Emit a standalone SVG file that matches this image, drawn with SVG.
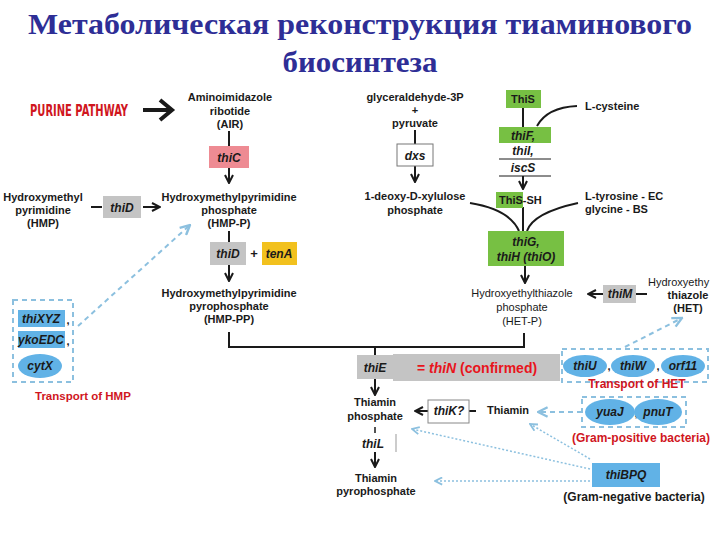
<svg xmlns="http://www.w3.org/2000/svg" width="720" height="540" viewBox="0 0 720 540">
<defs>
<style>
text{font-family:"Liberation Sans",Arial,sans-serif;fill:#1a1a1a}
.t{font-family:"Liberation Serif","Times New Roman",serif;font-weight:bold;font-size:29px;fill:#2e2e96;text-anchor:middle}
.l{font-size:11px;font-weight:bold;text-anchor:middle}
.r{font-size:11px;text-anchor:middle}
.e{font-size:12px;font-weight:bold;font-style:italic;text-anchor:middle}
.red{fill:#d0161e;font-weight:bold}
.ln{stroke:#1a1a1a;stroke-width:2;fill:none}
.ar{stroke:#1a1a1a;stroke-width:2;fill:none;marker-end:url(#ah)}
.bd{stroke:#8cc0df;stroke-width:2;fill:none;stroke-dasharray:5 4}
.bt{stroke:#8cc0df;stroke-width:1.5;fill:none;stroke-dasharray:2 2}
.grey{fill:#c4c4c4}
.green{fill:#77c043}
.blue{fill:#61b2e6}
</style>
<marker id="ah" viewBox="0 0 10 10" refX="9" refY="5" markerWidth="5" markerHeight="5" orient="auto"><path d="M1 1 L9 5 L1 9" fill="none" stroke="#1a1a1a" stroke-width="2"/></marker>
<marker id="ab" viewBox="0 0 10 10" refX="9" refY="5" markerWidth="6" markerHeight="6" orient="auto"><path d="M1 1 L9 5 L1 9" fill="none" stroke="#8cc0df" stroke-width="2"/></marker>
</defs>
<rect width="720" height="540" fill="#ffffff"/>
<g id="title">
<text class="t" x="360" y="34" textLength="664" lengthAdjust="spacingAndGlyphs">Метаболическая реконструкция тиаминового</text>
<text class="t" x="360" y="72" textLength="155" lengthAdjust="spacingAndGlyphs">биосинтеза</text>
</g>
<g id="connectors">
<path d="M143 110 H170" stroke="#1a1a1a" stroke-width="4" fill="none"/>
<path d="M160 100 L172 110 L160 120" stroke="#1a1a1a" stroke-width="4" fill="none"/>
<path class="ln" d="M229 131 V146"/>
<path class="ar" d="M229 168 V183"/>
<path class="ln" d="M91 207 H102"/>
<path class="ar" d="M143 207 H160"/>
<path class="ln" d="M229 231 V242"/>
<path class="ar" d="M229 265 V281"/>
<path class="ln" d="M229 332 V347 H524 V333"/>
<path class="ln" d="M375 347 V356"/>
<path class="ar" d="M375 379 V395"/>
<path d="M375 427 V433" stroke="#1a1a1a" stroke-width="1.5"/>
<path d="M396 434 V452" stroke="#999" stroke-width="1"/>
<path class="ar" d="M375 452 V467"/>
<path class="ar" d="M428 411 H415"/>
<path class="ln" d="M469 411 H476"/>
<path class="ln" d="M415 130 V144"/>
<path class="ar" d="M415 166 V182"/>
<path class="ln" d="M523 108 V127"/>
<path class="ar" d="M523 176 V189"/>
<path class="ln" d="M523 207 V231"/>
<path class="ln" d="M577 106 C556 107 543 115 537 126"/>
<path class="ln" d="M470 203 C495 207 512 215 519 231"/>
<path class="ln" d="M578 203 C555 208 532 216 527 231"/>
<path class="ar" d="M525 266 V283"/>
<path class="ar" d="M603 294 H588"/>
<path class="ln" d="M636 294 H647"/>
<path class="bd" d="M78 326 L190 225" marker-end="url(#ab)"/>
<path class="bd" d="M625 347 L682 318" marker-end="url(#ab)"/>
<path class="bd" d="M582 412 L538 412" marker-end="url(#ab)"/>
<path class="bt" d="M590 459 L530 424" marker-end="url(#ab)"/>
<path class="bt" d="M590 469 L412 429" marker-end="url(#ab)"/>
<path class="bt" d="M590 481 L435 481" marker-end="url(#ab)"/>
</g>
<g id="purine"><text x="30" y="116" style="font-family:'DejaVu Sans Condensed','DejaVu Sans',sans-serif;font-size:15px;font-weight:bold;fill:#d0161e" textLength="98" lengthAdjust="spacingAndGlyphs">PURINE PATHWAY</text></g>
<g id="air"><text class="l" x="230" y="101">Aminoimidazole</text><text class="l" x="230" y="115">ribotide</text><text class="l" x="230" y="128">(AIR)</text></g>
<g id="thiC"><rect x="209" y="146" width="40" height="22" fill="#ee8b93"/><text class="e" x="229" y="162">thiC</text></g>
<g id="hmp"><text class="l" x="43" y="201">Hydroxymethyl</text><text class="l" x="43" y="214">pyrimidine</text><text class="l" x="43" y="227">(HMP)</text></g>
<g id="thiD1"><rect class="grey" x="103" y="196" width="38" height="22"/><text class="e" x="122" y="212">thiD</text></g>
<g id="hmpp"><text class="l" x="229" y="201">Hydroxymethylpyrimidine</text><text class="l" x="229" y="214">phosphate</text><text class="l" x="229" y="227">(HMP-P)</text></g>
<g id="thiD2"><rect class="grey" x="210" y="242" width="36" height="23"/><text class="e" x="228" y="258">thiD</text><text class="l" x="254" y="258" style="font-size:13px">+</text></g>
<g id="tenA"><rect x="262" y="242" width="35" height="23" fill="#f2c11e"/><text class="e" x="279" y="258">tenA</text></g>
<g id="hmppp"><text class="l" x="229" y="297">Hydroxymethylpyrimidine</text><text class="l" x="229" y="310">pyrophosphate</text><text class="l" x="229" y="323">(HMP-PP)</text></g>
<g id="glyc"><text class="l" x="415" y="101">glyceraldehyde-3P</text><text class="l" x="415" y="114">+</text><text class="l" x="415" y="127">pyruvate</text></g>
<g id="dxs"><rect x="397" y="144" width="36" height="22" fill="#fff" stroke="#777" stroke-width="1"/><text class="e" x="415" y="160">dxs</text></g>
<g id="dxp"><text class="l" x="415" y="200">1-deoxy-D-xylulose</text><text class="l" x="415" y="214">phosphate</text></g>
<g id="thiS"><rect class="green" x="506" y="90" width="35" height="18"/><text class="l" x="523" y="103">ThiS</text></g>
<g id="cys"><text class="l" x="585" y="110" style="text-anchor:start">L-cysteine</text></g>
<g id="thiF"><rect class="green" x="499" y="127" width="52" height="16"/><text class="e" x="523" y="140">thiF,</text><text class="e" x="523" y="155">thiI,</text><path d="M499 159 H551 M499 176 H551" stroke="#1a1a1a" stroke-width="1"/><text class="e" x="523" y="172">iscS</text></g>
<g id="thisSH"><rect class="green" x="496" y="192" width="27" height="16"/><text class="l" x="499" y="204" style="text-anchor:start">ThiS-SH</text></g>
<g id="tyr"><text class="l" x="585" y="200" style="text-anchor:start">L-tyrosine - EC</text><text class="l" x="585" y="213" style="text-anchor:start">glycine - BS</text></g>
<g id="thiG"><rect class="green" x="488" y="231" width="76" height="35"/><text class="e" x="526" y="246">thiG,</text><text class="e" x="526" y="261">thiH (thiO)</text></g>
<g id="hetp"><text class="r" x="522" y="297">Hydroxyethylthiazole</text><text class="r" x="522" y="311">phosphate</text><text class="r" x="522" y="325">(HET-P)</text></g>
<g id="thiM"><rect class="grey" x="603" y="285" width="33" height="18"/><text class="e" x="620" y="298">thiM</text></g>
<g id="het"><text class="r" x="648" y="286" style="text-anchor:start">Hydroxyethy</text><text class="l" x="688" y="299">thiazole</text><text class="l" x="688" y="312">(HET)</text></g>
<g id="hmpTransport">
<rect x="13" y="300" width="60" height="82" fill="none" stroke="#8cc0df" stroke-width="2" stroke-dasharray="5 4"/>
<rect class="blue" x="18" y="310" width="47" height="17"/><text class="e" x="41" y="323">thiXYZ</text><text class="l" x="68" y="324">,</text>
<rect class="blue" x="18" y="331" width="47" height="17"/><text class="e" x="41" y="344">ykoEDC</text><text class="l" x="68" y="345">,</text>
<ellipse class="blue" cx="40" cy="366" rx="22" ry="12"/><text class="e" x="40" y="370">cytX</text>
<text class="red" x="35" y="400" style="font-size:11.5px">Transport of HMP</text>
</g>
<g id="thiE"><rect class="grey" x="357" y="355" width="36" height="24"/><text class="e" x="375" y="372">thiE</text>
<rect class="grey" x="393" y="354" width="167" height="27"/><text x="477" y="373" style="font-size:14px;font-weight:bold;fill:#e8141c;text-anchor:middle">= <tspan style="font-style:italic;fill:#e8141c">thiN</tspan> (confirmed)</text></g>
<g id="hetTransport">
<rect x="562" y="349" width="146" height="33" fill="none" stroke="#8cc0df" stroke-width="2" stroke-dasharray="5 4"/>
<ellipse class="blue" cx="585" cy="366" rx="22" ry="11"/><text class="e" x="585" y="370">thiU</text><text class="l" x="609" y="370">,</text>
<ellipse class="blue" cx="633" cy="366" rx="22" ry="11"/><text class="e" x="633" y="370">thiW</text><text class="l" x="658" y="370">,</text>
<ellipse class="blue" cx="683" cy="366" rx="22" ry="11"/><text class="e" x="683" y="370">orf11</text>
<text class="red" x="637" y="388" style="font-size:12px;text-anchor:middle">Transport of HET</text>
</g>
<g id="tp"><text class="l" x="375" y="406">Thiamin</text><text class="l" x="375" y="420">phosphate</text></g>
<g id="thiK"><rect x="428" y="400" width="41" height="23" fill="none" stroke="#888" stroke-width="1"/><text class="e" x="449" y="415">thiK?</text></g>
<g id="thiamin"><text class="l" x="508" y="414" style="font-weight:600">Thiamin</text></g>
<g id="thiL"><text class="e" x="373" y="448">thiL</text></g>
<g id="tpp"><text class="l" x="376" y="482">Thiamin</text><text class="l" x="376" y="495">pyrophosphate</text></g>
<g id="gramPos">
<rect x="582" y="397" width="104" height="30" fill="none" stroke="#8cc0df" stroke-width="2" stroke-dasharray="5 4"/>
<ellipse class="blue" cx="610" cy="412" rx="25" ry="13"/><text class="e" x="610" y="416">yuaJ</text><text class="l" x="636" y="417">,</text>
<ellipse class="blue" cx="658" cy="412" rx="24" ry="13"/><text class="e" x="658" y="416">pnuT</text>
<text class="red" x="641" y="442" style="font-size:12px;text-anchor:middle">(Gram-positive bacteria)</text>
</g>
<g id="thiBPQ"><rect class="blue" x="592" y="463" width="68" height="24"/><text class="e" x="626" y="479">thiBPQ</text>
<text class="l" x="634" y="501" style="font-size:12px">(Gram-negative bacteria)</text></g>
</svg>
